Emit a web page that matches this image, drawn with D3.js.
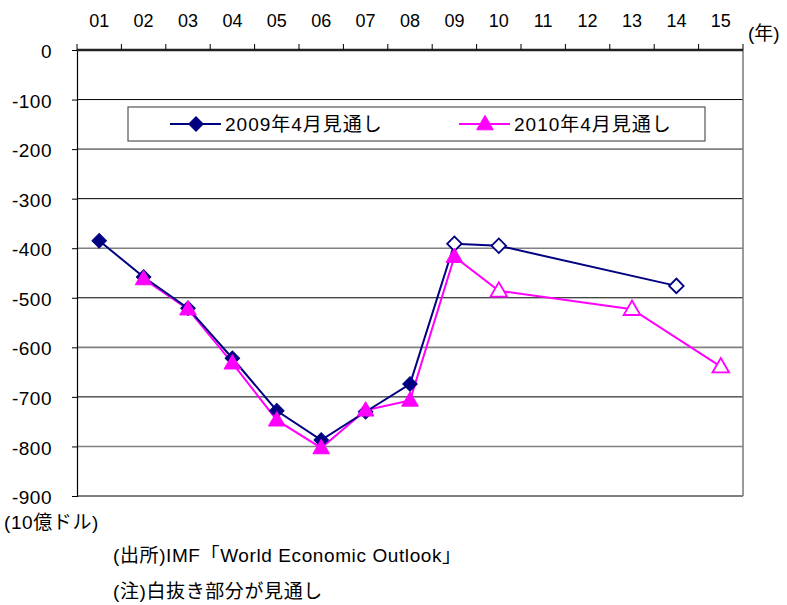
<!DOCTYPE html>
<html>
<head>
<meta charset="utf-8">
<script src="https://cdn.jsdelivr.net/npm/d3@7"></script>
<style>
  body { margin: 0; background: #fff; }
  text { font-family: "Liberation Sans", Arial, "Noto Sans CJK JP", sans-serif; fill: #000; }
  .jp { font-family: "Liberation Sans", "Noto Sans CJK JP", sans-serif; }
</style>
</head>
<body>
<div id="chart"></div>
<script>
// Data (10億ドル)
const years = ["01", "02", "03", "04", "05", "06", "07", "08", "09", "10", "11", "12", "13", "14", "15"];
const outlook2009 = [-385, -458, -521, -622, -728, -787, -730, -674, -391, -395, null, null, null, -476, null];
const outlook2010 = [null, -462, -523, -632, -747, -803, -727, -707, -417, -486, null, null, -523, null, -639];
const forecastStart2009 = "09";
const forecastStart2010 = "10";
const yTicks = [0, -100, -200, -300, -400, -500, -600, -700, -800, -900];
const seriesNames = ["2009年4月見通し", "2010年4月見通し"];

const W = 787, H = 605;
const plot = { left: 77, right: 743, top: 50, bottom: 496 };

const svg = d3.select("#chart")
    .append("svg")
    .attr("width", W)
    .attr("height", H);

let x = d3.scaleBand()
    .domain(years)
    .range([plot.left, plot.right]);

let y = d3.scaleLinear()
    .domain([-900, 0])
    .range([plot.bottom, plot.top]);

// Gridlines (alternating look like the original)
svg.append("g").selectAll("line")
    .data(yTicks.filter(d => d !== 0))
    .enter()
    .append("line")
    .attr("x1", plot.left)
    .attr("x2", plot.right)
    .attr("y1", d => y(d))
    .attr("y2", d => y(d))
    .attr("stroke", d => (Math.abs(d) / 100) % 2 === 1 ? "#000" : "#808080")
    .attr("stroke-width", d => (Math.abs(d) / 100) % 2 === 1 ? 1 : 1.6);

// Right border
svg.append("line")
    .attr("x1", plot.right).attr("x2", plot.right)
    .attr("y1", plot.top).attr("y2", plot.bottom)
    .attr("stroke", "#808080").attr("stroke-width", 1.6);

// Y axis
let yAxis = svg.append("g")
    .attr("transform", "translate(" + plot.left + ",0)")
    .call(d3.axisLeft(y).tickValues(yTicks).tickSize(5).tickPadding(20).tickFormat(d => d === 0 ? "0" : "-" + Math.abs(d)));
yAxis.select(".domain").attr("stroke", "#000").attr("stroke-width", 1.2);
yAxis.selectAll(".tick line").attr("stroke", "#000");
yAxis.selectAll("text")
    .attr("fill", "#000")
    .style("font-size", "19px")
    .style("letter-spacing", "0.5px")
    .attr("dy", "0.4em");

// X axis on top, ticks between categories
let xAxis = svg.append("g")
    .attr("transform", "translate(0," + plot.top + ")");
xAxis.append("line")
    .attr("x1", plot.left).attr("x2", plot.right)
    .attr("y1", 0).attr("y2", 0)
    .attr("stroke", "#222").attr("stroke-width", 2.4);
xAxis.selectAll(".xtick")
    .data(years.concat(["end"]))
    .enter()
    .append("line")
    .attr("x1", (d, i) => i < years.length ? x(d) : plot.right)
    .attr("x2", (d, i) => i < years.length ? x(d) : plot.right)
    .attr("y1", 0).attr("y2", -6)
    .attr("stroke", "#000");
xAxis.selectAll(".xlabel")
    .data(years)
    .enter()
    .append("text")
    .attr("x", d => x(d) + x.bandwidth() / 2)
    .attr("y", -23)
    .attr("text-anchor", "middle")
    .style("font-size", "18px")
    .text(d => d);

svg.append("text")
    .attr("class", "jp")
    .attr("x", 748)
    .attr("y", 40)
    .style("font-size", "19px")
    .text("(年)");

// Series
function toPoints(values, forecastStart) {
    let fi = years.indexOf(forecastStart);
    return values
        .map((v, i) => ({ year: years[i], value: v, forecast: i >= fi }))
        .filter(d => d.value !== null);
}
const pts2009 = toPoints(outlook2009, forecastStart2009);
const pts2010 = toPoints(outlook2010, forecastStart2010);

const cx = d => x(d.year) + x.bandwidth() / 2;
const line = d3.line().x(cx).y(d => y(d.value));

const navy = "#000080", magenta = "#FF00FF";
const diamond = d3.symbol().type(d3.symbolSquare).size(105);
const triangle = d3.symbol().type(d3.symbolTriangle).size(120);

svg.append("path")
    .datum(pts2010)
    .attr("d", line)
    .attr("fill", "none")
    .attr("stroke", magenta)
    .attr("stroke-width", 2);

svg.append("path")
    .datum(pts2009)
    .attr("d", line)
    .attr("fill", "none")
    .attr("stroke", navy)
    .attr("stroke-width", 2);

svg.append("g").selectAll("path")
    .data(pts2009)
    .enter()
    .append("path")
    .attr("d", diamond)
    .attr("transform", d => "translate(" + cx(d) + "," + y(d.value) + ")rotate(45)")
    .attr("fill", d => d.forecast ? "#fff" : navy)
    .attr("stroke", navy)
    .attr("stroke-width", d => d.forecast ? 1.8 : 1);

svg.append("g").selectAll("path")
    .data(pts2010)
    .enter()
    .append("path")
    .attr("d", triangle)
    .attr("transform", d => "translate(" + cx(d) + "," + (y(d.value) + 1) + ")")
    .attr("fill", d => d.forecast ? "#fff" : magenta)
    .attr("stroke", magenta)
    .attr("stroke-width", d => d.forecast ? 1.8 : 1);

// Legend
let legend = svg.append("g");
legend.append("rect")
    .attr("x", 128).attr("y", 107)
    .attr("width", 577).attr("height", 34)
    .attr("fill", "#fff")
    .attr("stroke", "#555").attr("stroke-width", 1.2);

const legendItems = [
    { name: seriesNames[0], color: navy, sym: diamond, rot: 45, x0: 170 },
    { name: seriesNames[1], color: magenta, sym: triangle, rot: 0, x0: 459 }
];
legendItems.forEach(it => {
    legend.append("line")
        .attr("x1", it.x0).attr("x2", it.x0 + 51)
        .attr("y1", 124).attr("y2", 124)
        .attr("stroke", it.color).attr("stroke-width", 2);
    legend.append("path")
        .attr("d", it.sym)
        .attr("transform", "translate(" + (it.x0 + 26) + "," + (it.rot ? 124 : 125) + ")rotate(" + it.rot + ")")
        .attr("fill", it.color)
        .attr("stroke", it.color);
    legend.append("text")
        .attr("class", "jp")
        .attr("x", it.x0 + 55)
        .attr("y", 131)
        .style("font-size", "19px")
        .style("letter-spacing", "1px")
        .text(it.name);
});

// Unit and notes
const noteStyle = sel => sel.attr("class", "jp").style("font-size", "19px").style("letter-spacing", "0.6px");
svg.append("text").call(noteStyle)
    .attr("x", 4).attr("y", 529)
    .text("(10億ドル)");
svg.append("text").call(noteStyle)
    .attr("x", 113).attr("y", 562)
    .text("(出所)IMF「World Economic Outlook」");
svg.append("text").call(noteStyle)
    .attr("x", 113).attr("y", 598)
    .text("(注)白抜き部分が見通し");
</script>
</body>
</html>
